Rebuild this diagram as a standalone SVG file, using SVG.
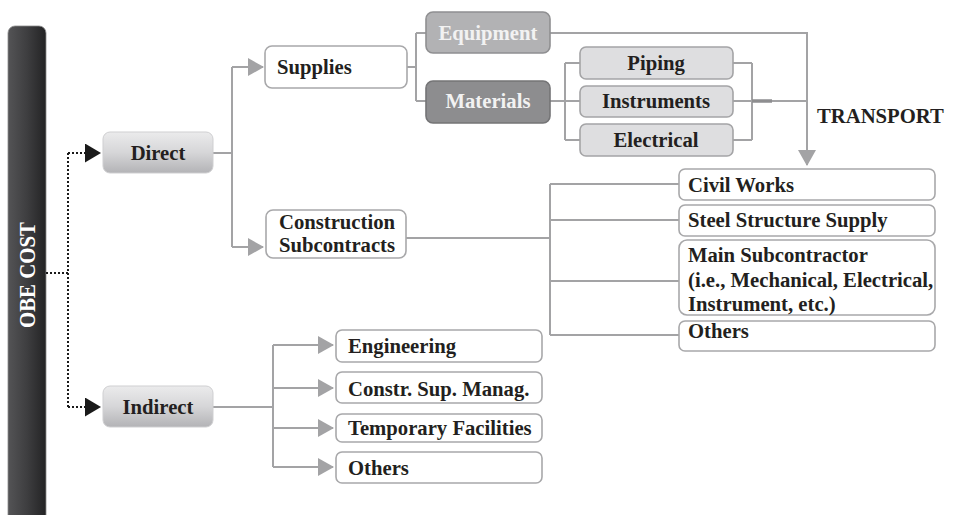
<svg xmlns="http://www.w3.org/2000/svg" width="953" height="515" viewBox="0 0 953 515">
<defs>
<linearGradient id="bar" x1="0" y1="0" x2="1" y2="0">
<stop offset="0" stop-color="#545456"/>
<stop offset="0.5" stop-color="#3e3e40"/>
<stop offset="1" stop-color="#232324"/>
</linearGradient>
<linearGradient id="lvl1" x1="0" y1="0" x2="0" y2="1">
<stop offset="0" stop-color="#ebebec"/>
<stop offset="0.5" stop-color="#d6d6d8"/>
<stop offset="1" stop-color="#b3b3b6"/>
</linearGradient>
<marker id="ag" markerWidth="16" markerHeight="18" refX="15" refY="9" orient="auto" markerUnits="userSpaceOnUse">
<path d="M0,0 L16,9 L0,18 Z" fill="#a3a3a5"/>
</marker>
<marker id="ab" markerWidth="16" markerHeight="19" refX="15" refY="9.5" orient="auto" markerUnits="userSpaceOnUse">
<path d="M0,0 L16,9.5 L0,19 Z" fill="#1a1a1a"/>
</marker>
</defs>
<style>
text{font-family:"Liberation Serif","Times New Roman",serif;font-weight:bold;font-size:20.7px;fill:#231f20}
.c{text-anchor:middle}
.w{fill:#ffffff;stroke:#a8a8aa;stroke-width:1.6}
.l1{fill:url(#lvl1);stroke:#cfcfd1;stroke-width:1}
.eq{fill:#b2b2b4;stroke:#8f8f91;stroke-width:1.6}
.ma{fill:#8d8d8f;stroke:#747476;stroke-width:1.6}
.sb{fill:#dedee0;stroke:#a4a4a6;stroke-width:1.6}
.lt{fill:#f2f2f2}
.ln{fill:none;stroke:#a3a3a5;stroke-width:2}
.dot{fill:none;stroke:#1a1a1a;stroke-width:2;stroke-dasharray:2 2}
</style>

<g id="obe-cost">
<rect x="8" y="26" width="38" height="500" rx="7" fill="url(#bar)" stroke="#8a8a8c" stroke-width="0.8"/>
<text transform="translate(35,275) rotate(-90)" class="c" style="fill:#ffffff;font-size:24px" textLength="106" lengthAdjust="spacingAndGlyphs">OBE  COST</text>
</g>

<g id="connectors">
<path class="dot" d="M46,273 H68 M68,153 V407"/>
<path class="dot" d="M68,153 H100" marker-end="url(#ab)"/>
<path class="dot" d="M68,407 H100" marker-end="url(#ab)"/>
<path class="ln" d="M213,153 H232 M232,67 V247"/>
<path class="ln" d="M232,67 H263" marker-end="url(#ag)"/>
<path class="ln" d="M232,247 H263" marker-end="url(#ag)"/>
<path class="ln" d="M407,67 H416 M416,33 V101 M416,33 H426 M416,101 H426"/>
<path class="ln" d="M550,101 H565 M565,63 V140 M565,63 H580 M565,140 H580 M565,101 H580"/>
<path class="ln" d="M733,63 H752 M752,63 V140 M733,140 H752 M733,101 H807"/>
<path d="M752,101 H772" stroke="#8e8e90" stroke-width="3.5" fill="none"/>
<path class="ln" d="M550,33 H807 V165" marker-end="url(#ag)"/>
<path class="ln" d="M406,238 H550 M550,184 V335 M550,184 H679 M550,220 H679 M550,281 H679 M550,335 H679"/>
<path class="ln" d="M213,407 H273 M273,345 V467"/>
<path class="ln" d="M273,345 H333" marker-end="url(#ag)"/>
<path class="ln" d="M273,388 H333" marker-end="url(#ag)"/>
<path class="ln" d="M273,428 H333" marker-end="url(#ag)"/>
<path class="ln" d="M273,467 H333" marker-end="url(#ag)"/>
</g>

<g id="direct">
<rect class="l1" x="103" y="132" width="110" height="41" rx="7"/>
<text class="c" x="158" y="160">Direct</text>
</g>
<g id="indirect">
<rect class="l1" x="103" y="386" width="110" height="41" rx="7"/>
<text class="c" x="158" y="414">Indirect</text>
</g>

<g id="supplies">
<rect class="w" x="265" y="46" width="142" height="42" rx="7"/>
<text x="277" y="74">Supplies</text>
</g>
<g id="construction-subcontracts">
<rect class="w" x="266" y="210" width="140" height="48" rx="7"/>
<text class="c" x="337" y="229">Construction</text>
<text class="c" x="337" y="252">Subcontracts</text>
</g>

<g id="equipment">
<rect class="eq" x="426" y="12" width="124" height="41" rx="7"/>
<text class="c lt" x="488" y="40">Equipment</text>
</g>
<g id="materials">
<rect class="ma" x="426" y="81" width="124" height="42" rx="7"/>
<text class="c lt" x="488" y="108">Materials</text>
</g>

<g id="piping">
<rect class="sb" x="580" y="47" width="153" height="32" rx="6"/>
<text class="c" x="656" y="70">Piping</text>
</g>
<g id="instruments">
<rect class="sb" x="580" y="86" width="153" height="31" rx="6"/>
<text class="c" x="656" y="108">Instruments</text>
</g>
<g id="electrical">
<rect class="sb" x="580" y="124" width="153" height="32" rx="6"/>
<text class="c" x="656" y="147">Electrical</text>
</g>

<g id="transport">
<text x="817" y="123">TRANSPORT</text>
</g>

<g id="civil-works">
<rect class="w" x="679" y="169" width="256" height="31" rx="6"/>
<text x="688" y="192">Civil Works</text>
</g>
<g id="steel-structure-supply">
<rect class="w" x="679" y="205" width="256" height="31" rx="6"/>
<text x="688" y="227">Steel Structure Supply</text>
</g>
<g id="main-subcontractor">
<rect class="w" x="679" y="240" width="256" height="75" rx="8"/>
<text x="688" y="262">Main Subcontractor</text>
<text x="688" y="287">(i.e., Mechanical, Electrical,</text>
<text x="688" y="311">Instrument, etc.)</text>
</g>
<g id="others-direct">
<rect class="w" x="679" y="321" width="256" height="30" rx="6"/>
<text x="688" y="338">Others</text>
</g>

<g id="engineering">
<rect class="w" x="336" y="330" width="206" height="32" rx="6"/>
<text x="348" y="353">Engineering</text>
</g>
<g id="constr-sup-manag">
<rect class="w" x="336" y="372" width="206" height="31" rx="6"/>
<text x="348" y="396">Constr. Sup. Manag.</text>
</g>
<g id="temporary-facilities">
<rect class="w" x="336" y="414" width="206" height="28" rx="6"/>
<text x="348" y="435">Temporary Facilities</text>
</g>
<g id="others-indirect">
<rect class="w" x="336" y="452" width="206" height="31" rx="6"/>
<text x="348" y="475">Others</text>
</g>
</svg>
